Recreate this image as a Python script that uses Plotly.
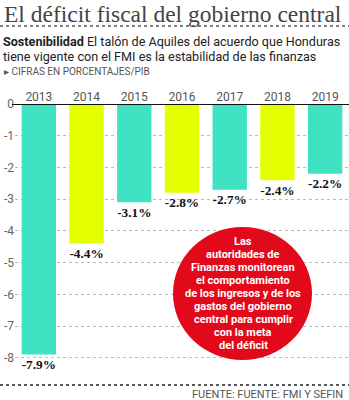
import plotly.graph_objects as go

years = ["2013", "2014", "2015", "2016", "2017", "2018", "2019"]
deficit = [-7.9, -4.4, -3.1, -2.8, -2.7, -2.4, -2.2]
labels = ["-7.9%", "-4.4%", "-3.1%", "-2.8%", "-2.7%", "-2.4%", "-2.2%"]
colors = ["#3FE3C2", "#E4FF00", "#3FE3C2", "#E4FF00", "#3FE3C2", "#E4FF00", "#3FE3C2"]
yticks = [0, -1, -2, -3, -4, -5, -6, -7, -8]
note_lines = ["Las", "autoridades de", "Finanzas monitorean", "el comportamiento",
              "de los ingresos y de los", "gastos del gobierno", "central para cumplir",
              "con la meta", "del déficit"]

W, H = 349, 400
ml, mr, mt, mb = 15, 0, 104, 20
pw, ph = W - ml - mr, H - mt - mb

def px(x):
    return (x - ml) / pw

def py(y):
    return (H - mb - y) / ph

fig = go.Figure()
fig.add_trace(go.Bar(
    x=years, y=deficit, marker=dict(color=colors, line=dict(width=0)),
    text=labels, textposition="outside", cliponaxis=False,
    textfont=dict(family="Liberation Serif", size=14, color="#111"),
    texttemplate="<b>%{text}</b>",
))

fig.update_layout(
    width=W, height=H, margin=dict(l=ml, r=mr, t=mt, b=mb),
    paper_bgcolor="white", plot_bgcolor="white", showlegend=False,
    bargap=0.28,
    xaxis=dict(side="top", type="category", range=[-0.5, 6.5], showgrid=False,
               showline=False, ticks="", tickfont=dict(family="Roboto", size=12, color="#555")),
    yaxis=dict(range=[-8.7, 0], tickvals=yticks, ticktext=[str(v) for v in yticks],
               showgrid=True, gridcolor="#BBBBBB", griddash="dot", gridwidth=1,
               zeroline=False, showline=False, ticks="",
               tickfont=dict(family="Roboto", size=12, color="#666")),
)

# zero line
fig.add_shape(type="line", xref="paper", yref="y", x0=px(12), x1=1, y0=0, y1=0,
              line=dict(color="#111", width=2))

# dotted separators
fig.add_shape(type="line", xref="paper", yref="paper", x0=px(0), x1=1, y0=py(26), y1=py(26),
              line=dict(color="#555", width=1.5, dash="dot"))
fig.add_shape(type="line", xref="paper", yref="paper", x0=px(0), x1=1, y0=py(385), y1=py(385),
              line=dict(color="#222", width=1.5, dash="dot"))

# red circle
fig.add_shape(type="circle", xref="paper", yref="paper",
              x0=px(173), x1=px(312), y0=py(360), y1=py(227),
              fillcolor="#E2091A", line=dict(width=0), layer="above")

cx = 243
for i, line in enumerate(note_lines):
    fig.add_annotation(xref="paper", yref="paper", x=px(cx), y=py(241 + i * 13), showarrow=False,
                       xanchor="center", yanchor="middle", text="<b>" + line + "</b>",
                       borderpad=0,
                       font=dict(family="Roboto", size=11, color="white"))

# title
fig.add_annotation(xref="paper", yref="paper", x=px(2), y=py(14), xanchor="left", yanchor="middle",
                   showarrow=False, text="El déficit fiscal del gobierno central",
                   font=dict(family="Liberation Serif", size=23.5, color="#444"))
fig.add_annotation(xref="paper", yref="paper", x=px(1), y=py(42), xanchor="left", yanchor="middle",
                   showarrow=False, text="<b>Sostenibilidad</b> El talón de Aquiles del acuerdo que Honduras",
                   font=dict(family="Roboto", size=12.6, color="#222"))
fig.add_annotation(xref="paper", yref="paper", x=px(1), y=py(57), xanchor="left", yanchor="middle",
                   showarrow=False, text="tiene vigente con el FMI es la estabilidad de las finanzas",
                   font=dict(family="Roboto", size=12.6, color="#222"))
fig.add_annotation(xref="paper", yref="paper", x=px(2), y=py(72), xanchor="left", yanchor="middle",
                   showarrow=False, text="▸ CIFRAS EN PORCENTAJES/PIB",
                   font=dict(family="Roboto", size=10, color="#555"))
fig.add_annotation(xref="paper", yref="paper", x=px(345), y=py(394), xanchor="right", yanchor="middle",
                   showarrow=False, text="FUENTE: FUENTE: FMI Y SEFIN",
                   font=dict(family="Roboto", size=11, color="#555"))

fig.write_html("out.html")
